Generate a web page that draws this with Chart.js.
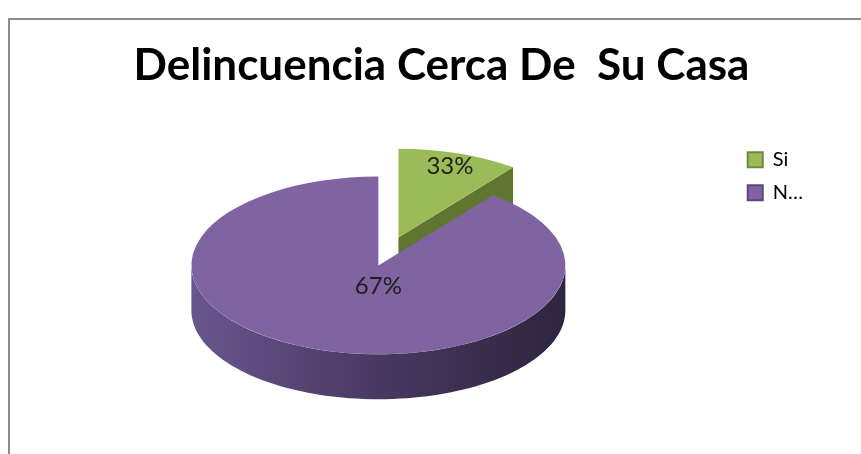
<!DOCTYPE html>
<html>
<head>
<meta charset="utf-8">
<script src="https://cdn.jsdelivr.net/npm/chart.js@4"></script>
<style>
  html, body { margin: 0; padding: 0; background: #fff; overflow: hidden; }
  .chart-box {
    position: absolute; left: 8px; top: 18px;
    width: 863px; height: 440px;
    border-left: 2px solid #8c8c8c; border-top: 2px solid #8c8c8c;
  }
  canvas { display: block; }
</style>
</head>
<body>
<div class="chart-box"><canvas id="chart" width="863" height="440"></canvas></div>
<script>
// categorias y valores
const categories = ['Si', 'N…'];
// tamaño real de las porciones dibujadas (la porcion verde es pequeña en el original)
const sliceValues = [10.5, 89.5];
// etiquetas de porcentaje tal como aparecen
const percentLabels = ['33%', '67%'];

const sliceColors = ['#9bbb59', '#8064a2'];
const borderColors = ['#6f8a3a', '#5c467a'];
const sideColors = ['#5f7530', '#4a3a64'];
const sideGradients = [['#6b8436', '#4f6228'], ['#6a568e', '#483861', '#2e253f']];

// plugin para el efecto 3D (elipse + paredes laterales)
const pie3d = {
  id: 'pie3d',
  beforeLayout(chart, args, opts) {
    // espacio extra a la derecha de la leyenda, como en el original
    const legend = chart.legend;
    if (legend && !legend._extraWidth) {
      const fit = legend.fit.bind(legend);
      legend.fit = function () {
        fit();
        this.width += opts.legendExtra;
      };
      legend._extraWidth = true;
    }
  },
  beforeDatasetsDraw(chart, args, opts) {
    const ctx = chart.ctx;
    const arcs = chart.getDatasetMeta(0).data;
    const k = opts.tilt;
    const depth = opts.depth;

    const parts = arcs.map((arc, i) => {
      const mid = (arc.startAngle + arc.endAngle) / 2;
      const ex = opts.explode[i] || 0;
      return {
        arc, i, mid,
        cx: arc.x + Math.cos(mid) * ex,
        cy: arc.y + Math.sin(mid) * ex * k,
        r: arc.outerRadius,
        a0: arc.startAngle,
        a1: arc.endAngle
      };
    });
    const pt = (p, a) => [p.cx + p.r * Math.cos(a), p.cy + p.r * k * Math.sin(a)];

    // caras de corte visibles
    parts.forEach(p => {
      [[p.a0, -1], [p.a1, 1]].forEach(([a, dir]) => {
        if (Math.sin(a + dir * Math.PI / 2) <= 0.001) return;
        const [x, y] = pt(p, a);
        ctx.beginPath();
        ctx.moveTo(p.cx, p.cy);
        ctx.lineTo(x, y);
        ctx.lineTo(x, y + depth);
        ctx.lineTo(p.cx, p.cy + depth);
        ctx.closePath();
        ctx.fillStyle = sideColors[p.i];
        ctx.fill();
      });
    });

    // pared exterior frontal
    parts.forEach(p => {
      for (let n = -1; n <= 1; n++) {
        const s = Math.max(p.a0, 2 * Math.PI * n);
        const e = Math.min(p.a1, Math.PI + 2 * Math.PI * n);
        if (e <= s) continue;
        const steps = 80;
        ctx.beginPath();
        for (let j = 0; j <= steps; j++) {
          const [x, y] = pt(p, s + (e - s) * j / steps);
          if (j === 0) ctx.moveTo(x, y); else ctx.lineTo(x, y);
        }
        for (let j = steps; j >= 0; j--) {
          const [x, y] = pt(p, s + (e - s) * j / steps);
          ctx.lineTo(x, y + depth);
        }
        ctx.closePath();
        const g = ctx.createLinearGradient(p.cx - p.r, 0, p.cx + p.r, 0);
        const stops = sideGradients[p.i];
        stops.forEach((c, j) => g.addColorStop(j / (stops.length - 1), c));
        ctx.fillStyle = g;
        ctx.fill();
      }
    });

    // caras superiores (arcos de Chart.js aplastados)
    parts.forEach(p => {
      ctx.save();
      ctx.translate(p.cx, p.cy);
      ctx.scale(1, k);
      ctx.translate(-p.arc.x, -p.arc.y);
      p.arc.draw(ctx);
      ctx.restore();
    });

    // etiquetas de datos
    ctx.save();
    ctx.font = opts.labelFont;
    ctx.fillStyle = '#1e1e1e';
    ctx.textAlign = 'center';
    ctx.textBaseline = 'middle';
    parts.forEach(p => {
      const share = (p.a1 - p.a0) / (2 * Math.PI);
      let x, y;
      if (share > 0.5) {
        x = p.cx;
        y = p.cy + 0.24 * p.r * k;
      } else {
        x = p.cx + 0.85 * p.r * Math.cos(p.mid);
        y = p.cy + 0.85 * p.r * k * Math.sin(p.mid);
      }
      ctx.fillText(percentLabels[p.i], x, y);
    });
    ctx.restore();
    return false;
  }
};

new Chart(document.getElementById('chart'), {
  type: 'pie',
  data: {
    labels: categories,
    datasets: [{
      data: sliceValues,
      backgroundColor: sliceColors,
      borderWidth: 0,
      radius: 187,
      clip: false
    }]
  },
  options: {
    responsive: false,
    animation: false,
    layout: { padding: { left: 12, right: 12, bottom: 66 } },
    plugins: {
      title: {
        display: true,
        text: 'Delincuencia Cerca De  Su Casa',
        color: '#000',
        font: { family: 'Lato', size: 44, weight: 'bold' },
        padding: { top: 19, bottom: 45 }
      },
      legend: {
        position: 'right',
        align: 'start',
        fullSize: false,
        labels: {
          boxWidth: 15,
          boxHeight: 15,
          padding: 13,
          color: '#222',
          font: { family: 'Lato', size: 20 },
          generateLabels: () => categories.map((c, i) => ({
            text: c,
            fillStyle: sliceColors[i],
            strokeStyle: borderColors[i],
            lineWidth: 2,
            hidden: false,
            index: i
          }))
        }
      },
      tooltip: { enabled: false },
      pie3d: {
        tilt: 0.475,
        depth: 45,
        explode: [62, 0],
        legendExtra: 48,
        labelFont: '24px Lato'
      }
    }
  },
  plugins: [pie3d]
});
</script>
</body>
</html>
